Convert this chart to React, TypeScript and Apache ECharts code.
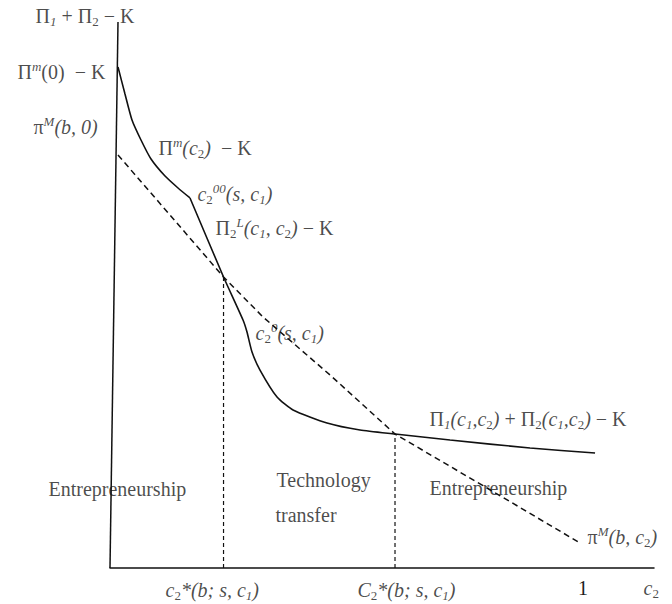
import React, { useEffect, useRef } from "react";
import * as echarts from "echarts";

// ---- data (in chart units: x = c2 with 1 at the "1" tick, y = profit normalised to axis height) ----
const solidX = [0.0169, 0.0317, 0.0465, 0.0655, 0.0867, 0.1163, 0.1438, 0.1691, 0.24, 0.2812, 0.2896, 0.3002, 0.3171, 0.3531, 0.3869, 0.4588, 0.5285, 0.6025, 0.7188, 0.8879, 1.0254];
const solidY = [0.9176, 0.8681, 0.8205, 0.7839, 0.7491, 0.7179, 0.696, 0.6777, 0.533, 0.4542, 0.4322, 0.3956, 0.3626, 0.3132, 0.2894, 0.2656, 0.2527, 0.2454, 0.2344, 0.2198, 0.2106];
const solidKink = 7; // index of the c2^00 kink

const dashX = [0.0169, 0.1268, 0.24, 0.3235, 0.4651, 0.6025, 0.797, 0.9937];
const dashY = [0.7564, 0.6465, 0.533, 0.4597, 0.3535, 0.2454, 0.1465, 0.0458];

const crossX = [0.24, 0.6025];
const crossY = [0.533, 0.2454];

const axisYX = [0, 0.0169];
const axisYY = [0, 1];

const xTickLabels = ["1"];

// annotations: [x, y, rich text]
const annotX = [-0.1586, -0.1966, -0.1628, 0.1015, 0.1839, 0.222, 0.3066, 0.6744, -0.1311, 0.351, 0.3488, 0.6744, 1.0085, 0.1163, 0.5222, 1.1268];
const annotY = [1.011, 0.9084, 0.8077, 0.7692, 0.685, 0.6227, 0.4304, 0.2729, 0.1447, 0.1612, 0.0971, 0.1465, 0.0568, -0.0403, -0.0403, -0.0366];
const annotText = [
  "{r|Π}{sub|1}{r| + Π}{subr|2}{r| − K}",
  "{r|Π}{sup|m}{r|(0)  − K}",
  "{r|π}{sup|M}{i|(b, 0)}",
  "{r|Π}{sup|m}{i|(c}{subr|2}{i|)}{r|  − K}",
  "{i|c}{subr|2}{sup|00}{i|(s, c}{sub|1}{i|)}",
  "{r|Π}{subr|2}{sup|L}{i|(c}{sub|1}{i|, c}{subr|2}{i|)}{r| − K}",
  "{i|c}{subr|2}{sup|0}{i|(s, c}{sub|1}{i|)}",
  "{r|Π}{sub|1}{i|(c}{sub|1}{i|,c}{subr|2}{i|)}{r| + Π}{subr|2}{i|(c}{sub|1}{i|,c}{subr|2}{i|)}{r| − K}",
  "{r|Entrepreneurship}",
  "{r|Technology}",
  "{r|transfer}",
  "{r|Entrepreneurship}",
  "{r|π}{sup|M}{i|(b, c}{subr|2}{i|)}",
  "{i|c}{subr|2}{i|*(b; s, c}{sub|1}{i|)}",
  "{i|C}{subr|2}{i|*(b; s, c}{sub|1}{i|)}",
  "{i|c}{subr|2}",
];

const FONT = '"Liberation Serif", "Times New Roman", serif';
const TXT = "#1c1c1c";

const zip = (xs: number[], ys: number[]) => xs.map((x, i) => [x, ys[i]]);

export default function App() {
  const ref = useRef<HTMLDivElement>(null);
  useEffect(() => {
    if (!ref.current) return;
    const chart = echarts.init(ref.current, undefined, { renderer: "svg" });
    const rich = {
      r: { fontFamily: FONT, fontSize: 20, color: TXT, lineHeight: 24 },
      i: { fontFamily: FONT, fontSize: 20, fontStyle: "italic", color: TXT, lineHeight: 24 },
      sub: { fontFamily: FONT, fontSize: 13, fontStyle: "italic", color: TXT, lineHeight: 12, verticalAlign: "bottom" },
      subr: { fontFamily: FONT, fontSize: 13, color: TXT, lineHeight: 12, verticalAlign: "bottom" },
      sup: { fontFamily: FONT, fontSize: 13, fontStyle: "italic", color: TXT, lineHeight: 11, verticalAlign: "top" },
    };
    const solid = zip(solidX, solidY);
    const solidLine = { color: "#111", width: 1.6 };
    chart.setOption({
      animation: false,
      backgroundColor: "#ffffff",
      grid: { left: 110, right: 18, top: 22, bottom: 36, containLabel: false },
      xAxis: {
        type: "value",
        min: 0,
        max: 1.15,
        interval: 0.5,
        axisLine: { show: true, lineStyle: { color: "#111", width: 1.5 } },
        axisTick: { show: false },
        splitLine: { show: false },
        axisLabel: {
          margin: 10,
          showMaxLabel: false,
          fontFamily: FONT,
          fontSize: 20,
          color: TXT,
          formatter: (v: number) => (Math.abs(v - 1) < 1e-9 ? xTickLabels[0] : ""),
        },
      },
      yAxis: { type: "value", min: 0, max: 1, show: false },
      series: [
        {
          type: "line",
          data: zip(axisYX, axisYY),
          symbol: "none",
          lineStyle: { color: "#111", width: 1.5 },
          silent: true,
        },
        {
          type: "line",
          data: solid.slice(0, solidKink + 1),
          symbol: "none",
          smooth: 0.2,
          lineStyle: solidLine,
          silent: true,
        },
        {
          type: "line",
          data: solid.slice(solidKink),
          symbol: "none",
          smooth: 0.2,
          lineStyle: solidLine,
          silent: true,
        },
        {
          type: "line",
          data: zip(dashX, dashY),
          symbol: "none",
          smooth: false,
          lineStyle: { color: "#111", width: 1.5, type: [6, 4] },
          silent: true,
        },
        ...crossX.map((cx, k) => ({
          type: "line",
          data: [[cx, 0], [cx, crossY[k]]],
          symbol: "none",
          lineStyle: { color: "#111", width: 1.2, type: [4, 3] },
          silent: true,
        })),
        {
          type: "scatter",
          clip: false,
          symbolSize: 1,
          itemStyle: { color: "rgba(0,0,0,0)" },
          silent: true,
          data: annotText.map((t, i) => ({ name: t, value: [annotX[i], annotY[i]] })),
          label: {
            show: true,
            position: "right",
            distance: 0,
            formatter: (p: any) => p.name,
            rich,
          },
        },
      ],
    });
    return () => chart.dispose();
  }, []);
  return (
    <div
      ref={ref}
      style={{ position: "fixed", left: 0, top: 0, width: 672, height: 604, background: "#fff" }}
    />
  );
}
